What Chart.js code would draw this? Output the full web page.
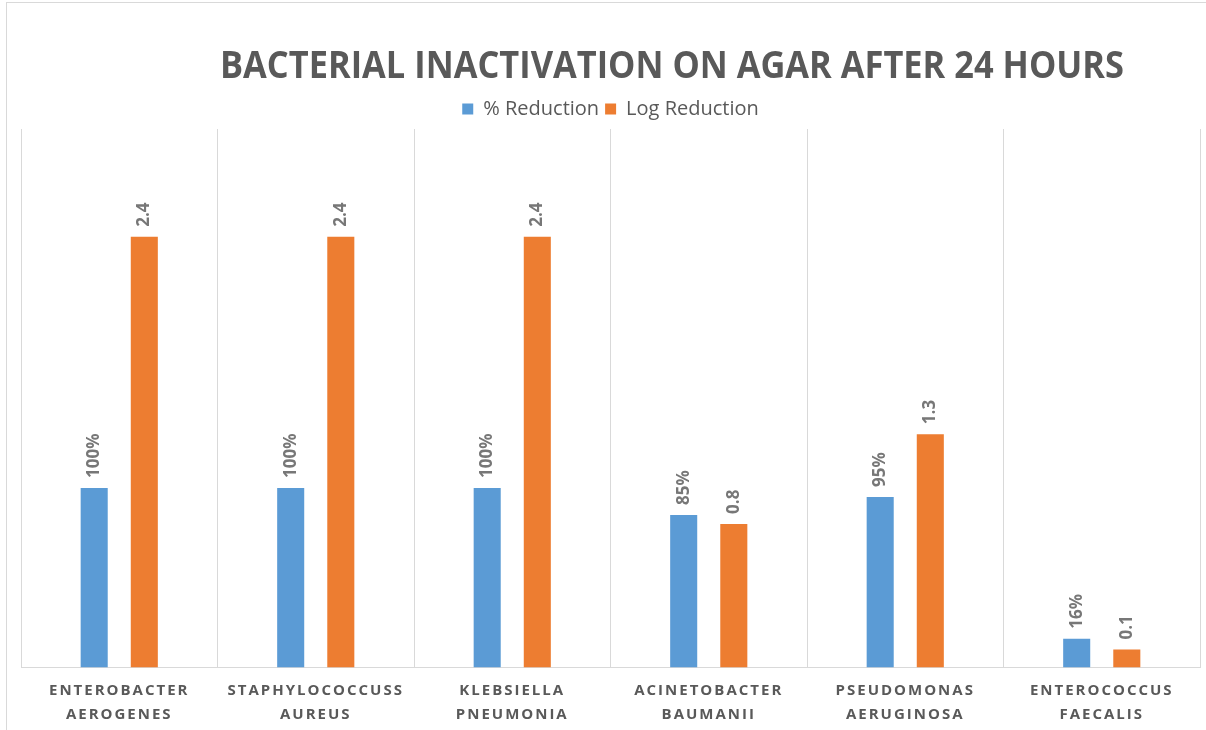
<!DOCTYPE html>
<html>
<head>
<meta charset="utf-8">
<script src="https://cdn.jsdelivr.net/npm/chart.js@4"></script>
<style>
  body { margin: 0; background: #fff; }
  #wrap { position: absolute; left: 6px; top: 2px; width: 1199px; height: 740px; border: 1px solid #d9d9d9; }
</style>
</head>
<body>
<div id="wrap"><canvas id="myChart"></canvas></div>
<script>
var categories = [
  ["ENTEROBACTER", "AEROGENES"],
  ["STAPHYLOCOCCUSS", "AUREUS"],
  ["KLEBSIELLA", "PNEUMONIA"],
  ["ACINETOBACTER", "BAUMANII"],
  ["PSEUDOMONAS", "AERUGINOSA"],
  ["ENTEROCOCCUS", "FAECALIS"]
];
var pctReduction = [1.00, 1.00, 1.00, 0.85, 0.95, 0.16];
var logReduction = [2.4, 2.4, 2.4, 0.8, 1.3, 0.1];

var COLORS = ['#5B9BD5', '#ED7D31'];
var TITLE = 'BACTERIAL INACTIVATION ON AGAR AFTER 24 HOURS';

// title drawn slightly right of centre, like the Excel original
var titlePlugin = {
  id: 'offsetTitle',
  beforeDraw: function(chart) {
    var ctx = chart.ctx;
    ctx.save();
    ctx.font = 'bold 38px "Open Sans"';
    ctx.fillStyle = '#595959';
    ctx.textBaseline = 'alphabetic';
    ctx.textAlign = 'center';
    var w = ctx.measureText(TITLE).width;
    ctx.translate(665, 75);
    ctx.scale(904 / w, 1);
    ctx.fillText(TITLE, 0, 0);
    ctx.restore();
  }
};

// rotated value labels above each bar
var valueLabels = {
  id: 'valueLabels',
  afterDatasetsDraw: function(chart) {
    var ctx = chart.ctx;
    chart.data.datasets.forEach(function(ds, i) {
      chart.getDatasetMeta(i).data.forEach(function(bar, j) {
        var v = ds.data[j];
        var txt = i === 0 ? Math.round(v * 100) + '%' : v.toFixed(1);
        ctx.save();
        ctx.translate(bar.x, bar.y - 10);
        ctx.rotate(-Math.PI / 2);
        ctx.font = 'bold 17px "Open Sans"';
        ctx.fillStyle = '#777777';
        ctx.textAlign = 'left';
        ctx.textBaseline = 'middle';
        ctx.fillText(txt, 0, 0);
        ctx.restore();
      });
    });
    // x tick labels are drawn after this (ticks.z = 1), spaced out
    ctx.letterSpacing = '2px';
  },
  afterDraw: function(chart) {
    chart.ctx.letterSpacing = '0px';
  }
};

new Chart("myChart", {
  type: "bar",
  data: {
    labels: categories,
    datasets: [{
      label: '% Reduction',
      data: pctReduction,
      backgroundColor: COLORS[0]
    }, {
      label: 'Log Reduction',
      data: logReduction,
      backgroundColor: COLORS[1]
    }]
  },
  options: {
    responsive: true,
    maintainAspectRatio: false,
    animation: false,
    categoryPercentage: 0.51,
    barPercentage: 0.54,
    layout: { padding: { top: 90, left: 14, right: 6, bottom: 5 } },
    plugins: {
      title: { display: false },
      tooltip: { enabled: false },
      legend: {
        position: 'top',
        labels: {
          boxWidth: 11,
          boxHeight: 11,
          padding: 6,
          color: '#595959',
          font: { family: 'Open Sans', size: 20 }
        }
      }
    },
    scales: {
      x: {
        grid: { color: '#d9d9d9', lineWidth: 1, drawTicks: false },
        border: { color: '#d9d9d9' },
        ticks: {
          z: 1,
          color: '#595959',
          padding: 12,
          maxRotation: 0,
          autoSkip: false,
          font: { family: 'Open Sans', size: 15, weight: 'bold', lineHeight: 1.55 }
        }
      },
      y: {
        display: false,
        min: 0,
        max: 3
      }
    }
  },
  plugins: [titlePlugin, valueLabels]
});
</script>
</body>
</html>
